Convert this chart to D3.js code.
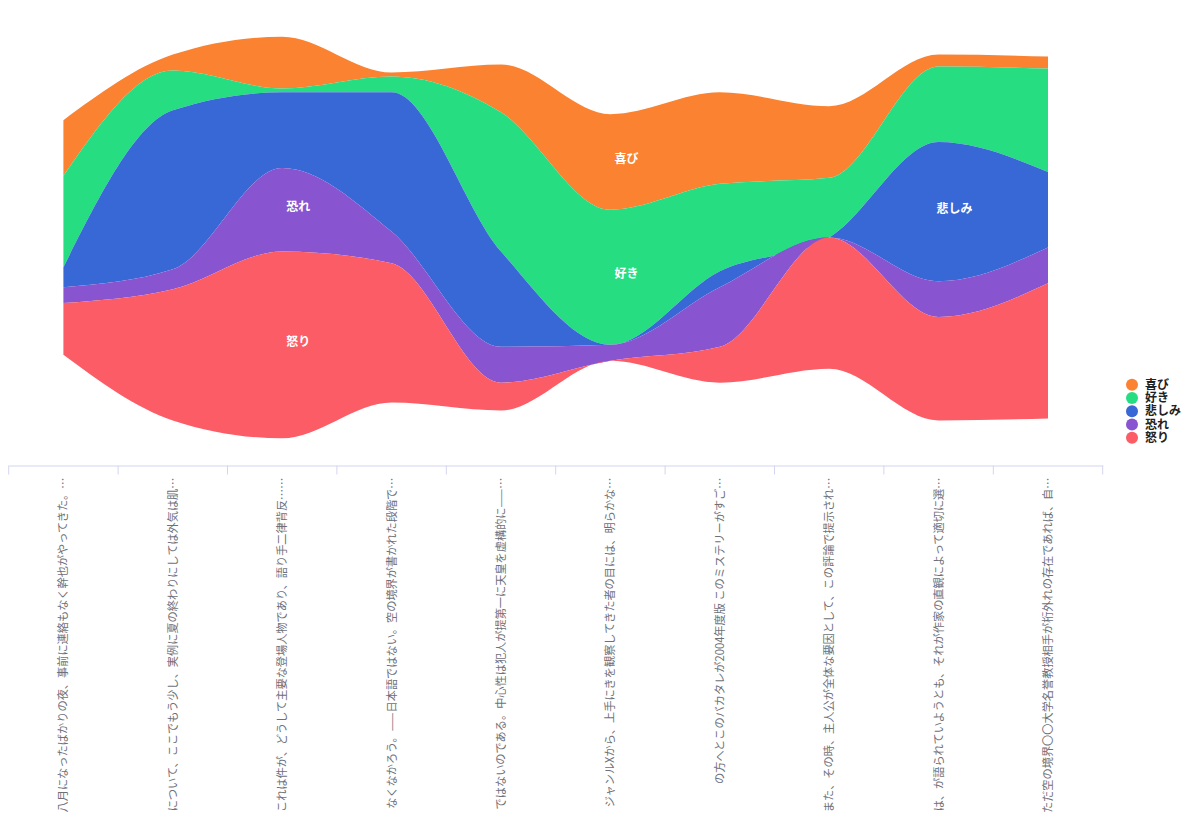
<!DOCTYPE html>
<html>
<head>
<meta charset="utf-8">
<script src="https://cdn.jsdelivr.net/npm/d3@7"></script>
<style>
  body { margin: 0; background: #fff; }
  svg { display: block; font-family: "Noto Sans CJK JP", "Noto Sans", sans-serif; }
</style>
</head>
<body>
<svg id="chart" width="1200" height="825"></svg>
<script>
// categories (axis labels, already truncated as in the picture)
var categories = [
  "八月になったばかりの夜、事前に連絡もなく幹也がやってきた。…",
  "について、ここでもう少し、実例に夏の終わりにしては外気は肌…",
  "これは件が、どうして主要な登場人物であり、語り手二律背反……",
  "なくなかろう。——日本語ではない。空の境界が書かれた段階で…",
  "ではないのである。中心性は犯人が提第一に天皇を虚構的に——…",
  "ジャンルXから、上手にきを観察してきた者の目には、明らかな…",
  "の方へとこのバカタレが2004年度版 このミステリーがすご…",
  "また、その時、主人公が全体な要因として、この評論で提示され…",
  "は、が語られていようとも、それが作家の直観によって適切に選…",
  "ただ空の境界〇〇大学名誉教授相手が桁外れの存在であれば、自…"
];
var seriesNames = ["喜び", "好き", "悲しみ", "恐れ", "怒り"];
var joy     = [14,  4, 13,  1, 12, 24, 23, 18,  3,  3];
var like    = [23, 10,  1,  4, 35, 34, 22, 15, 19, 26];
var sadness = [ 5, 40, 19, 35, 24,  0,  4,  0, 35, 19];
var fear    = [ 4,  5, 21,  8,  9,  4, 15,  0,  9,  9];
var anger   = [13, 33, 47, 35,  7,  0,  9, 33, 26, 34];
var colors = ["#fa8231", "#26de81", "#3867d6", "#8854d0", "#fc5c65"];
var labelAt = [5, 5, 8, 2, 2];

var svg = d3.select("#chart");
var values = [joy, like, sadness, fear, anger];

var table = categories.map(function(c, i) {
  var row = {cat: c};
  seriesNames.forEach(function(s, j) { row[s] = values[j][i]; });
  return row;
});

var stack = d3.stack()
  .keys(seriesNames)
  .order(d3.stackOrderReverse)
  .offset(d3.stackOffsetSilhouette);
var layers = stack(table);

var maxTotal = d3.max(table, function(r) { return d3.sum(seriesNames, function(s) { return r[s]; }); });

var x = d3.scaleBand()
  .domain(categories)
  .range([8.7, 1102.7])
  .padding(0);
var cx = function(c) { return x(c) + x.bandwidth() / 2; };

var y = d3.scaleLinear()
  .domain([-maxTotal / 2, maxTotal / 2])
  .range([438.3, 36.7]);

var area = d3.area()
  .x(function(d) { return cx(d.data.cat); })
  .y0(function(d) { return y(d[0]); })
  .y1(function(d) { return y(d[1]); })
  .curve(d3.curveMonotoneX);

svg.append("g")
  .selectAll("path")
  .data(layers)
  .join("path")
    .attr("fill", function(d) { return colors[seriesNames.indexOf(d.key)]; })
    .attr("d", area);

// layer labels
svg.append("g")
  .selectAll("text")
  .data(layers)
  .join("text")
    .attr("x", function(d) { return cx(categories[labelAt[seriesNames.indexOf(d.key)]]) + 16; })
    .attr("y", function(d) {
      var p = d[labelAt[seriesNames.indexOf(d.key)]];
      return y((p[0] + p[1]) / 2) - 3;
    })
    .attr("dy", "0.35em")
    .attr("text-anchor", "middle")
    .attr("fill", "#fff")
    .attr("font-size", 12)
    .attr("font-weight", "bold")
    .text(function(d) { return d.key; });

// single axis
var axisY = 465.5;
var ax = svg.append("g")
  .attr("transform", "translate(0," + axisY + ")")
  .call(d3.axisBottom(x).tickSize(0));
ax.select(".domain").attr("stroke", "#d4d5ef");
ax.selectAll(".tick text")
  .attr("transform", "rotate(-90)")
  .attr("x", -12)
  .attr("y", 0)
  .attr("dy", "0.35em")
  .attr("text-anchor", "end")
  .attr("fill", "#6e7079")
  .attr("font-size", 11.2)
  .attr("font-family", "'Noto Sans CJK JP', sans-serif");
ax.append("g")
  .selectAll("line")
  .data(categories.map(function(c) { return x(c); }).concat([x.range()[1]]))
  .join("line")
    .attr("x1", function(d) { return d; })
    .attr("x2", function(d) { return d; })
    .attr("y1", 0)
    .attr("y2", 9)
    .attr("stroke", "#d4d5ef");

// legend
var legend = svg.append("g").attr("transform", "translate(1132,384.7)");
var item = legend.selectAll("g")
  .data(seriesNames)
  .join("g")
    .attr("transform", function(d, i) { return "translate(0," + i * 13.25 + ")"; });
item.append("circle")
  .attr("r", 6)
  .attr("fill", function(d, i) { return colors[i]; });
item.append("text")
  .attr("x", 13)
  .attr("dy", "0.35em")
  .attr("font-size", 12)
  .attr("font-weight", "bold")
  .attr("fill", "#222")
  .text(function(d) { return d; });
</script>
</body>
</html>
